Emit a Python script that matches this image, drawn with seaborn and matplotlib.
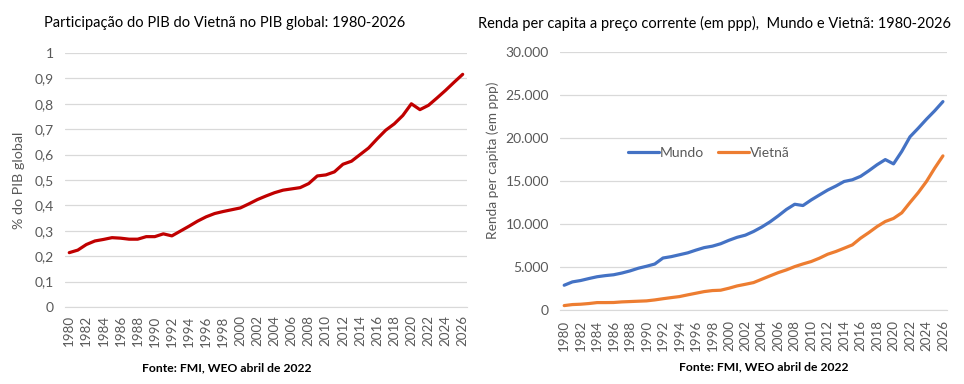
import numpy as np
import pandas as pd
import matplotlib
matplotlib.use("Agg")
import matplotlib.pyplot as plt
from matplotlib.ticker import FuncFormatter, MultipleLocator
import seaborn as sns

# anos 1980-2026
anos = list(range(1980, 2027))

# participacao do Vietna no PIB global (%)
participacao = [0.214, 0.224, 0.246, 0.260, 0.266, 0.273, 0.271, 0.267, 0.267, 0.277,
                0.277, 0.288, 0.280, 0.299, 0.318, 0.338, 0.355, 0.368, 0.376, 0.383,
                0.390, 0.406, 0.423, 0.437, 0.450, 0.460, 0.465, 0.470, 0.486, 0.516,
                0.520, 0.532, 0.562, 0.574, 0.600, 0.626, 0.662, 0.696, 0.721, 0.754,
                0.800, 0.777, 0.794, 0.823, 0.853, 0.885, 0.916]

# renda per capita (ppp)
mundo = [2870, 3260, 3420, 3650, 3860, 3990, 4090, 4290, 4540, 4850,
         5080, 5340, 6040, 6200, 6420, 6640, 6960, 7250, 7420, 7700,
         8100, 8450, 8700, 9130, 9650, 10250, 10950, 11700, 12300, 12150,
         12800, 13380, 13950, 14420, 14950, 15150, 15550, 16200, 16900, 17500,
         17000, 18450, 20150, 21150, 22200, 23180, 24250]
vietna = [500, 620, 660, 740, 850, 850, 860, 930, 970, 1010,
          1050, 1160, 1300, 1430, 1550, 1750, 1940, 2130, 2250, 2290,
          2520, 2790, 2980, 3180, 3570, 3960, 4340, 4660, 5040, 5350,
          5630, 6020, 6480, 6800, 7180, 7570, 8350, 9000, 9700, 10290,
          10650, 11300, 12500, 13650, 14950, 16500, 17930]

cinza = "#595959"
grade = "#D9D9D9"

sns.set_style("white")
plt.rcParams['font.family'] = ['Lato', 'DejaVu Sans']

fig = plt.figure(figsize=(9.64, 3.84), dpi=100)
ax1 = fig.add_axes([0.0674, 0.2005, 0.4170, 0.6615])
ax2 = fig.add_axes([0.5810, 0.1930, 0.4014, 0.6710])

df1 = pd.DataFrame({"ano": anos, "valor": participacao})
sns.lineplot(data=df1, x="ano", y="valor", ax=ax1, color="#C00000", linewidth=2.3)

df2 = pd.DataFrame({"ano": anos * 2,
                    "valor": mundo + vietna,
                    "serie": ["Mundo"] * len(anos) + ["Vietnã"] * len(anos)})
sns.lineplot(data=df2, x="ano", y="valor", hue="serie", ax=ax2,
             palette={"Mundo": "#4472C4", "Vietnã": "#ED7D31"}, linewidth=2.3)

for ax, xpad in ((ax1, 6), (ax2, 7)):
    ax.set_xlim(1979.5, 2026.5)
    ax.xaxis.set_major_locator(MultipleLocator(2))
    ax.tick_params(axis="x", labelrotation=90, labelsize=9.6, colors=cinza, length=0, pad=xpad)
    ax.tick_params(axis="y", labelsize=10, colors=cinza, length=0, pad=8)
    ax.grid(axis="y", color=grade, linewidth=0.9)
    ax.set_axisbelow(True)
    ax.set_xlabel("")
    for s in ("top", "right", "left"):
        ax.spines[s].set_visible(False)
    ax.spines["bottom"].set_color(grade)

ax1.set_ylim(0, 1)
ax1.yaxis.set_major_locator(MultipleLocator(0.1))
ax1.yaxis.set_major_formatter(FuncFormatter(lambda v, p: ("%.1f" % v).replace(".", ",").replace(",0", "") if v in (0, 1) else ("%.1f" % v).replace(".", ",")))
ax1.set_ylabel("% do PIB global", fontsize=10.3, color=cinza)
ax1.yaxis.set_label_coords(-0.10, 0.5)

ax2.set_ylim(0, 30000)
ax2.yaxis.set_major_locator(MultipleLocator(5000))
ax2.yaxis.set_major_formatter(FuncFormatter(lambda v, p: "{:,.0f}".format(v).replace(",", ".")))
ax2.set_ylabel("Renda per capita (em ppp)", fontsize=9.8, color=cinza)
ax2.yaxis.set_label_coords(-0.157, 0.58)

leg = ax2.legend(loc="center", bbox_to_anchor=(0.385, 0.609), ncol=2, frameon=False,
                 fontsize=10, handlelength=2.2, handletextpad=0.1, columnspacing=1.0)
for t in leg.get_texts():
    t.set_color(cinza)

fig.text(0.233, 0.94, "Participação do PIB do Vietnã no PIB global: 1980-2026",
         ha="center", va="center", fontsize=10.5, color="black")
fig.text(0.741, 0.94, "Renda per capita a preço corrente (em ppp),  Mundo e Vietnã: 1980-2026",
         ha="center", va="center", fontsize=10.5, color="black")
fig.text(0.235, 0.042, "Fonte: FMI, WEO abril de 2022", ha="center", va="center",
         fontsize=8.7, fontweight="bold", color="black")
fig.text(0.792, 0.045, "Fonte: FMI, WEO abril de 2022", ha="center", va="center",
         fontsize=8.7, fontweight="bold", color="black")

fig.savefig("out.png", dpi=100)
